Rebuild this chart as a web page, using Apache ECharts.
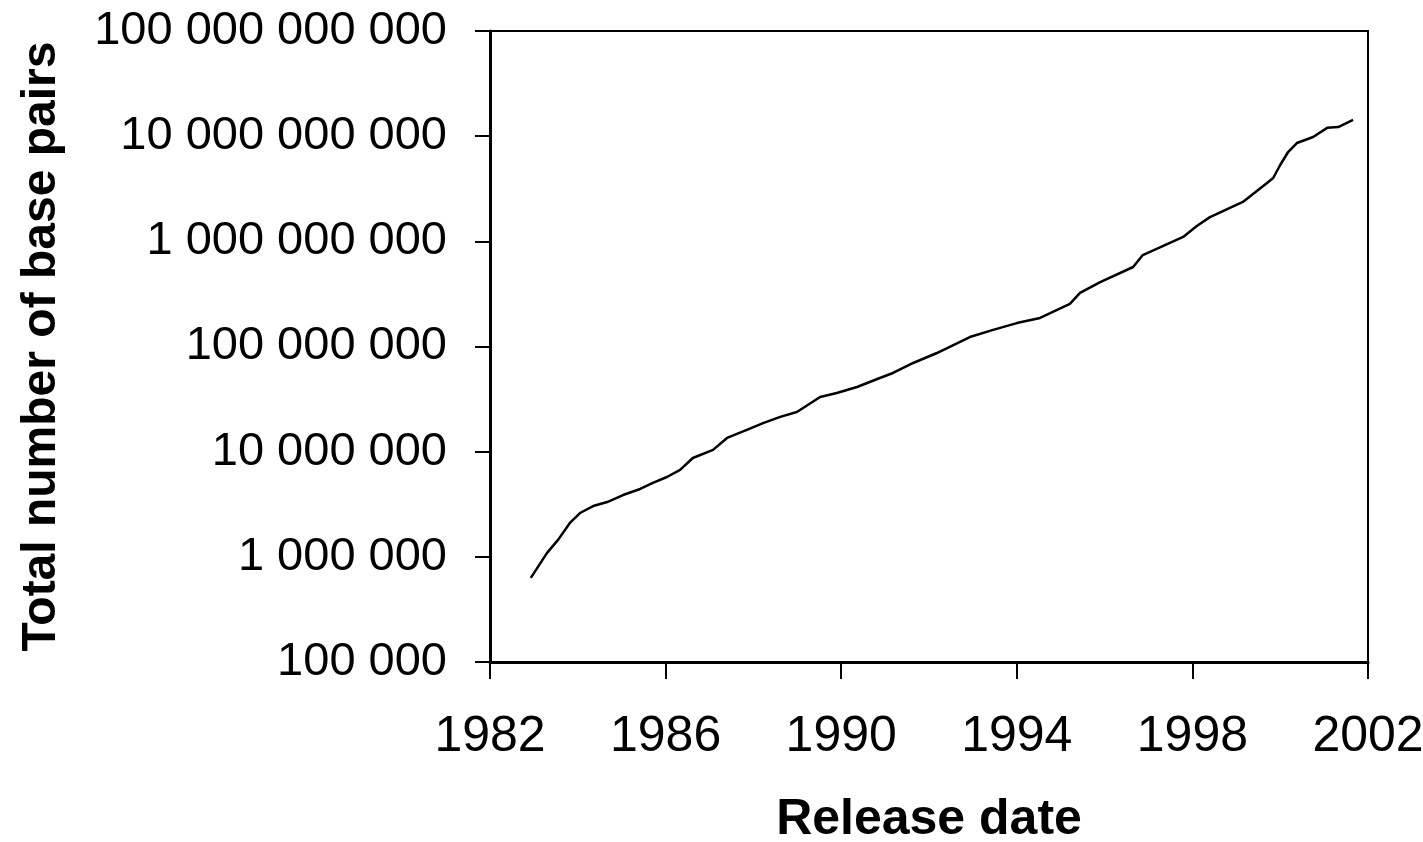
<!DOCTYPE html>
<html>
<head>
<meta charset="utf-8">
<script src="https://cdn.jsdelivr.net/npm/echarts@6/dist/echarts.min.js"></script>
<style>
html,body{margin:0;padding:0;background:#fff;overflow:hidden;}
#chart{width:1423px;height:842px;}
</style>
</head>
<body>
<div id="chart"></div>
<script>
// Release dates (fractional years)
const releaseDates = [1982.93,1983.30,1983.55,1983.82,1984.05,1984.35,1984.67,1985.03,1985.42,1985.71,1986.03,1986.33,1986.62,1987.08,1987.40,1987.85,1988.22,1988.61,1988.99,1989.52,1989.90,1990.36,1990.88,1991.18,1991.64,1992.18,1992.93,1993.46,1994.00,1994.53,1995.21,1995.44,1995.90,1996.65,1996.87,1997.79,1998.10,1998.40,1999.15,1999.70,1999.84,2000.00,2000.18,2000.38,2000.75,2001.07,2001.32,2001.66];
// Total number of base pairs
const basePairs = [6.3e5,1.09e6,1.45e6,2.10e6,2.61e6,3.04e6,3.32e6,3.87e6,4.42e6,5.04e6,5.74e6,6.70e6,8.71e6,1.04e7,1.35e7,1.61e7,1.87e7,2.14e7,2.38e7,3.31e7,3.61e7,4.12e7,5.02e7,5.60e7,6.97e7,8.67e7,1.23e8,1.44e8,1.67e8,1.87e8,2.54e8,3.23e8,4.10e8,5.70e8,7.41e8,1.10e9,1.40e9,1.70e9,2.37e9,3.59e9,4.00e9,5.32e9,7.07e9,8.61e9,9.82e9,1.20e10,1.22e10,1.43e10];
const yearTicks = [1982,1986,1990,1994,1998,2002];
const yTicks = [1e5,1e6,1e7,1e8,1e9,1e10,1e11];

const xTitle = 'Release date';
const yTitle = 'Total number of base pairs';

function fmt(v){
  return String(Math.round(v)).replace(/\B(?=(\d{3})+(?!\d))/g,' ');
}

const chart = echarts.init(document.getElementById('chart'), null, {renderer:'canvas',width:1423,height:842});
const points = releaseDates.map((d,i)=>[d, basePairs[i]]);
chart.setOption({
  animation:false,
  backgroundColor:'#ffffff',
  grid:{left:490,top:31,width:878,height:631,containLabel:false,outerBoundsMode:'none',show:true,borderColor:'#000',borderWidth:2,backgroundColor:'transparent'},
  xAxis:{
    type:'value',
    min:yearTicks[0],max:yearTicks[yearTicks.length-1],interval:4,
    name:xTitle,nameLocation:'middle',nameGap:133,
    nameTextStyle:{fontFamily:'Liberation Sans',fontWeight:'bold',fontSize:50,color:'#000'},
    axisLine:{show:true,lineStyle:{color:'#000',width:3}},
    axisTick:{show:true,inside:false,length:17,lineStyle:{color:'#000',width:2}},
    axisLabel:{show:true,margin:50,fontFamily:'Liberation Sans',fontSize:50,color:'#000',formatter:v=>String(v)},
    splitLine:{show:false}
  },
  yAxis:{
    type:'log',logBase:10,
    min:yTicks[0],max:yTicks[yTicks.length-1],
    name:yTitle,nameLocation:'middle',nameGap:424,nameRotate:90,
    nameTextStyle:{fontFamily:'Liberation Sans',fontWeight:'bold',fontSize:48,color:'#000'},
    axisLine:{show:true,lineStyle:{color:'#000',width:3}},
    axisTick:{show:true,inside:false,length:15,lineStyle:{color:'#000',width:2}},
    minorTick:{show:false},
    axisLabel:{show:true,margin:43,fontFamily:'Liberation Sans',fontSize:47,color:'#000',formatter:v=>fmt(v)},
    splitLine:{show:false}
  },
  series:[{
    type:'line',
    data:points,
    showSymbol:false,
    symbol:'none',
    lineStyle:{color:'#000',width:2.5},
    smooth:false
  }]
});
</script>
</body>
</html>
